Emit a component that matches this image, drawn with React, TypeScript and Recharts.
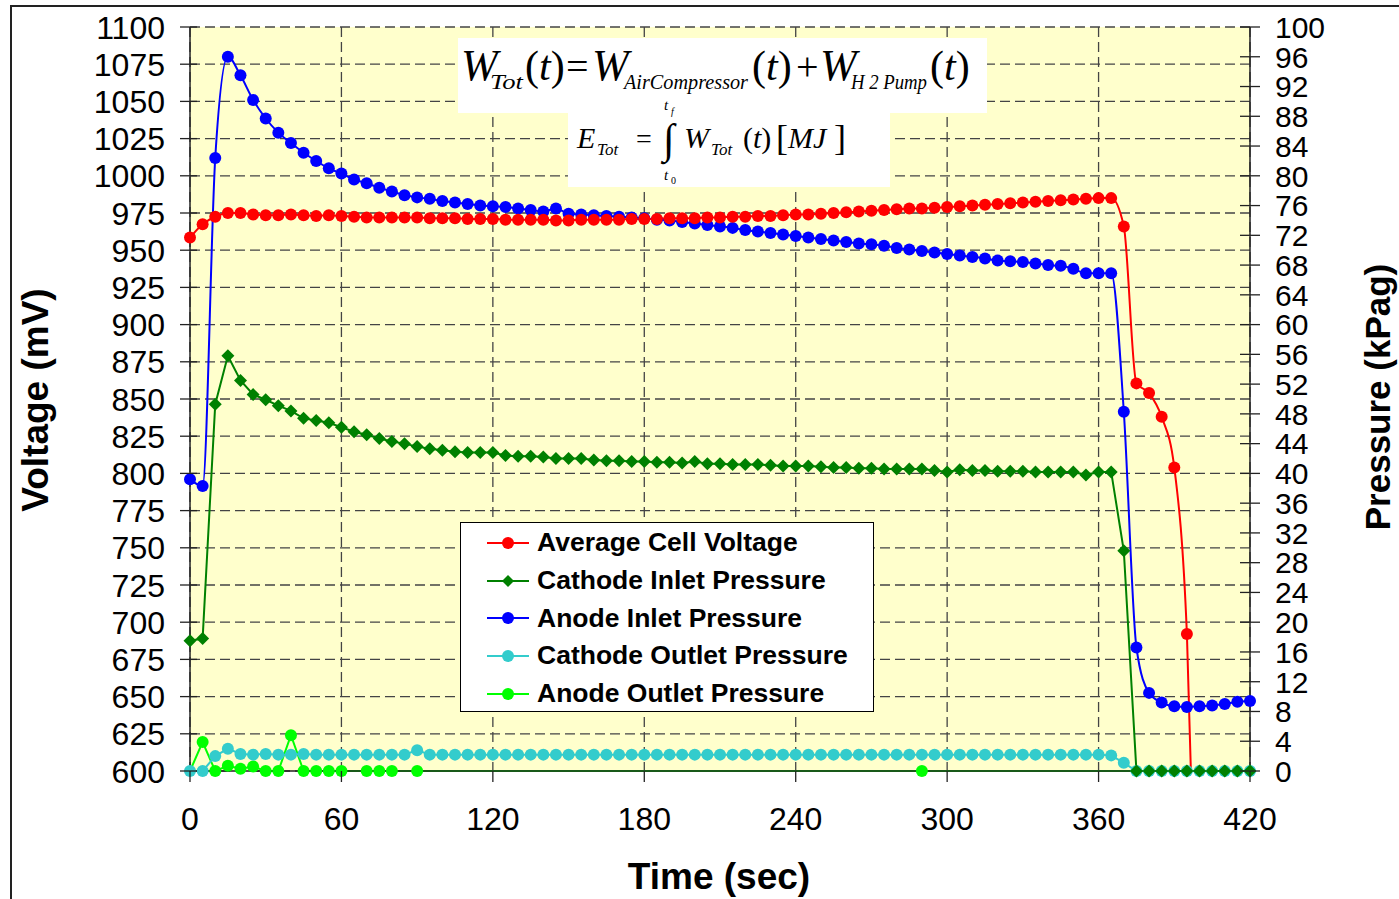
import { ComposedChart, Line, XAxis, YAxis, CartesianGrid, Legend } from 'recharts';

const times = [
  0, 5, 10, 15, 20, 25, 30, 35, 40, 45, 50, 55, 60, 65, 70, 75, 80, 85, 90, 95,
  100, 105, 110, 115, 120, 125, 130, 135, 140, 145, 150, 155, 160, 165, 170, 175, 180, 185, 190, 195,
  200, 205, 210, 215, 220, 225, 230, 235, 240, 245, 250, 255, 260, 265, 270, 275, 280, 285, 290, 295,
  300, 305, 310, 315, 320, 325, 330, 335, 340, 345, 350, 355, 360, 365, 370, 375, 380, 385, 390, 395,
  400, 405, 410, 415, 420,
];

// mV, left axis
const avgCellVoltage = [
  958.5, 967.5, 972.5, 975, 975, 974, 973.5, 973.5, 974, 973.5, 973, 973.5, 973, 972.5, 972, 972, 972, 972, 972, 971.5,
  971.5, 971.5, 971, 971, 971, 970.5, 970.5, 970.5, 970.5, 970, 970, 970.5, 970.5, 970.5, 970.5, 971, 971, 971, 971.5, 971.5,
  971.5, 972, 972, 972.5, 972.5, 973, 973, 973.5, 974, 974, 974.5, 975, 975.5, 976, 976.5, 977, 977.5, 978, 978, 978.5,
  979, 979.5, 980, 980.5, 981, 981.5, 982, 982.5, 983, 983.5, 984, 984.5, 985, 985, 966, 860.5, 854, 838, 804, 692,
  400, null, null, null, null,
];

// kPag, right axis
const cathodeInletPressure = [
  17.5, 17.8, 49.3, 55.8, 52.5, 50.6, 49.9, 49.1, 48.4, 47.4, 47.1, 46.8, 46.2, 45.6, 45.2, 44.7, 44.3, 44.0, 43.6, 43.3,
  43.1, 42.9, 42.8, 42.8, 42.8, 42.4, 42.3, 42.3, 42.2, 42.0, 42.0, 42.0, 41.8, 41.7, 41.7, 41.6, 41.6, 41.5, 41.5, 41.4,
  41.6, 41.3, 41.3, 41.2, 41.2, 41.2, 41.1, 41.0, 41.0, 41.0, 40.9, 40.8, 40.8, 40.7, 40.7, 40.6, 40.6, 40.6, 40.6, 40.4,
  40.2, 40.5, 40.4, 40.4, 40.3, 40.3, 40.3, 40.2, 40.2, 40.2, 40.2, 39.8, 40.2, 40.2, 29.6, 0, 0, 0, 0, 0,
  0, 0, 0, 0, 0,
];

const anodeInletPressure = [
  39.2, 38.3, 82.4, 96, 93.5, 90.2, 87.7, 85.8, 84.4, 83.1, 82, 81, 80.3, 79.5, 79, 78.4, 77.9, 77.4, 77.1, 76.9,
  76.6, 76.4, 76.2, 76, 75.9, 75.8, 75.6, 75.4, 75.2, 75.6, 74.9, 74.8, 74.7, 74.6, 74.5, 74.4, 74.3, 74.1, 74, 73.8,
  73.6, 73.4, 73.2, 73, 72.7, 72.5, 72.3, 72.1, 71.9, 71.7, 71.5, 71.3, 71.1, 70.9, 70.8, 70.6, 70.3, 70.1, 69.9, 69.7,
  69.5, 69.3, 69.1, 68.9, 68.6, 68.5, 68.4, 68.2, 68.0, 67.9, 67.5, 66.9, 66.9, 66.9, 48.3, 16.6, 10.5, 9.2, 8.7, 8.6,
  8.7, 8.8, 9.0, 9.3, 9.4,
];

const cathodeOutletPressure = [
  0, 0, 2.0, 3.0, 2.3, 2.2, 2.3, 2.2, 2.2, 2.3, 2.2, 2.2, 2.2, 2.2, 2.2, 2.2, 2.2, 2.2, 2.8, 2.2,
  2.2, 2.2, 2.2, 2.2, 2.2, 2.2, 2.2, 2.2, 2.2, 2.2, 2.2, 2.2, 2.2, 2.2, 2.2, 2.2, 2.2, 2.2, 2.2, 2.2,
  2.2, 2.2, 2.2, 2.2, 2.2, 2.2, 2.2, 2.2, 2.2, 2.2, 2.2, 2.2, 2.2, 2.2, 2.2, 2.2, 2.2, 2.2, 2.2, 2.2,
  2.2, 2.2, 2.2, 2.2, 2.2, 2.2, 2.2, 2.2, 2.2, 2.2, 2.2, 2.2, 2.2, 2.1, 1.1, 0, 0, 0, 0, 0,
  0, 0, 0, 0, 0,
];

const anodeOutletPressure = [
  0, 3.9, 0, 0.7, 0.3, 0.6, 0, 0, 4.8, 0, 0, 0, 0, 0, 0, 0, 0, 0, 0, 0,
  0, 0, 0, 0, 0, 0, 0, 0, 0, 0, 0, 0, 0, 0, 0, 0, 0, 0, 0, 0,
  0, 0, 0, 0, 0, 0, 0, 0, 0, 0, 0, 0, 0, 0, 0, 0, 0, 0, 0, 0,
  0, 0, 0, 0, 0, 0, 0, 0, 0, 0, 0, 0, 0, 0, 0, 0, 0, 0, 0, 0,
  0, 0, 0, 0, 0,
];
// times where the anode outlet series shows a marker
const anodeOutletMarked = [5, 10, 15, 20, 25, 30, 35, 40, 45, 50, 55, 60, 70, 75, 80, 90, 290];

const timeTicks = [0, 60, 120, 180, 240, 300, 360, 420];
const voltageTicks = [600, 625, 650, 675, 700, 725, 750, 775, 800, 825, 850, 875, 900, 925, 950, 975, 1000, 1025, 1050, 1075, 1100];
const pressureTicks = [0, 4, 8, 12, 16, 20, 24, 28, 32, 36, 40, 44, 48, 52, 56, 60, 64, 68, 72, 76, 80, 84, 88, 92, 96, 100];

const series = [
  { key: 'voltage', name: 'Average Cell Voltage', color: '#FF0000', diamond: false },
  { key: 'cathodeIn', name: 'Cathode Inlet Pressure', color: '#008000', diamond: true },
  { key: 'anodeIn', name: 'Anode Inlet Pressure', color: '#0000FF', diamond: false },
  { key: 'cathodeOut', name: 'Cathode Outlet Pressure', color: '#33CCCC', diamond: false },
  { key: 'anodeOut', name: 'Anode Outlet Pressure', color: '#00FF00', diamond: false },
];

const data = times.map((t, i) => ({
  t,
  voltage: avgCellVoltage[i],
  cathodeIn: cathodeInletPressure[i],
  anodeIn: anodeInletPressure[i],
  cathodeOut: cathodeOutletPressure[i],
  anodeOut: anodeOutletPressure[i],
}));

const AXIS = '#222';
const TICK_FONT = 32;

function LeftTick(props: any) {
  const { x, y, payload } = props;
  const ax = x + 25;
  return (
    <g>
      <line x1={ax - 10} x2={ax + 7} y1={y} y2={y} stroke={AXIS} strokeWidth={1.3} />
      <text x={x} y={y} dy="0.36em" textAnchor="end" fontSize={TICK_FONT} fill="#000">{payload.value}</text>
    </g>
  );
}

function RightTick(props: any) {
  const { x, y, payload } = props;
  const ax = x - 25;
  return (
    <g>
      <line x1={ax - 10} x2={ax + 10} y1={y} y2={y} stroke={AXIS} strokeWidth={1.3} />
      <text x={x} y={y} dy="0.36em" textAnchor="start" fontSize={30} fill="#000">{payload.value}</text>
    </g>
  );
}

function BottomTick(props: any) {
  const { x, y, payload } = props;
  const ay = y - 19;
  return (
    <g>
      <line x1={x} x2={x} y1={ay} y2={ay + 11} stroke={AXIS} strokeWidth={1.3} />
      <text x={x} y={y + 40} textAnchor="middle" fontSize={TICK_FONT} fill="#000">{payload.value}</text>
    </g>
  );
}

function DiamondDot(props: any) {
  const { cx, cy, fill } = props;
  if (cx == null || cy == null) return <g />;
  const s = 6.5;
  return <polygon points={`${cx},${cy - s} ${cx + s},${cy} ${cx},${cy + s} ${cx - s},${cy}`} fill={fill} />;
}

function AnodeOutletDot(props: any) {
  const { cx, cy, payload } = props;
  if (!anodeOutletMarked.includes(payload.t)) return <g />;
  return <circle cx={cx} cy={cy} r={6} fill="#00FF00" />;
}

function LegendBox() {
  return (
    <div style={{ width: 414, height: 190, boxSizing: 'border-box', border: '1.5px solid #000', background: '#fff', paddingTop: 1 }}>
      {series.map((s) => (
        <div key={s.key} style={{ height: 37.7, display: 'flex', alignItems: 'center' }}>
          <svg width={76} height={20} style={{ flex: 'none' }}>
            <line x1={26} x2={68} y1={10} y2={10} stroke={s.color} strokeWidth={2} />
            {s.diamond ? (
              <polygon points="47,4 53,10 47,16 41,10" fill={s.color} />
            ) : (
              <circle cx={47} cy={10} r={6} fill={s.color} />
            )}
          </svg>
          <span style={{ fontWeight: 700, fontSize: 26.5, color: '#000', whiteSpace: 'nowrap' }}>{s.name}</span>
        </div>
      ))}
    </div>
  );
}

function Overlay() {
  const serif = '"Liberation Serif", "Times New Roman", serif';
  const fit = 'spacingAndGlyphs';
  return (
    <svg width={1399} height={899} style={{ position: 'absolute', left: 0, top: 0, pointerEvents: 'none' }}>
      {/* formula boxes */}
      <rect x={458} y={38} width={529} height={75} fill="#fff" />
      <rect x={568} y={112} width={322} height={75} fill="#fff" />
      <g fontFamily={serif} fill="#000">
        <text x={461} y={80} fontSize={44} fontStyle="italic">W</text>
        <text x={490} y={89} fontSize={21} fontStyle="italic" textLength={33} lengthAdjust={fit}>Tot</text>
        <text x={525} y={80} fontSize={42}>(<tspan fontStyle="italic">t</tspan>)</text>
        <text x={566} y={80} fontSize={40}>=</text>
        <text x={592} y={80} fontSize={44} fontStyle="italic">W</text>
        <text x={624} y={89} fontSize={21} fontStyle="italic" textLength={124} lengthAdjust={fit}>AirCompressor</text>
        <text x={752} y={80} fontSize={42}>(<tspan fontStyle="italic">t</tspan>)</text>
        <text x={796} y={80} fontSize={40}>+</text>
        <text x={820} y={80} fontSize={44} fontStyle="italic">W</text>
        <text x={851} y={89} fontSize={21} fontStyle="italic" textLength={76} lengthAdjust={fit}>H 2<tspan fontStyle="normal"> </tspan>Pump</text>
        <text x={930} y={80} fontSize={42}>(<tspan fontStyle="italic">t</tspan>)</text>

        <text x={577} y={148} fontSize={30} fontStyle="italic">E</text>
        <text x={597} y={155} fontSize={17} fontStyle="italic">Tot</text>
        <text x={636} y={148} fontSize={28}>=</text>
        <text x={663} y={153} fontSize={42}>∫</text>
        <text x={664} y={110} fontSize={15} fontStyle="italic">t</text>
        <text x={671} y={115} fontSize={10} fontStyle="italic">f</text>
        <text x={664} y={180} fontSize={15} fontStyle="italic">t</text>
        <text x={671} y={184} fontSize={10}>0</text>
        <text x={684} y={148} fontSize={30} fontStyle="italic">W</text>
        <text x={711} y={155} fontSize={17} fontStyle="italic">Tot</text>
        <text x={743} y={148} fontSize={30}>(<tspan fontStyle="italic">t</tspan>)</text>
        <text x={776} y={150} fontSize={36}>[</text>
        <text x={788} y={148} fontSize={30} fontStyle="italic">MJ</text>
        <text x={834} y={150} fontSize={36}>]</text>
      </g>
      {/* axis titles */}
      <g fontWeight={700} fill="#000">
        <text x={35} y={400} dy="0.35em" fontSize={37} textAnchor="middle" transform="rotate(-90, 35, 400)">Voltage (mV)</text>
        <text x={1378} y={397} dy="0.35em" fontSize={35} textAnchor="middle" transform="rotate(-90, 1378, 397)">Pressure (kPag)</text>
        <text x={719} y={889} fontSize={37} textAnchor="middle">Time (sec)</text>
      </g>
    </svg>
  );
}

export default function App() {
  return (
    <div style={{ position: 'fixed', left: 0, top: 0, width: 1399, height: 899, overflow: 'hidden', background: '#fff', fontFamily: '"Liberation Sans", Arial, sans-serif' }}>
      <div style={{ position: 'absolute', left: 10, top: 5, width: 1400, height: 900, borderLeft: '2px solid #222', borderTop: '2px solid #222' }} />
      <div style={{ position: 'absolute', left: 0, top: 0 }}>
        <ComposedChart width={1399} height={899} data={data} margin={{ top: 27, right: 0, bottom: 0, left: 0 }}>
          <CartesianGrid fill="#FFFFCC" fillOpacity={1} stroke="#444" strokeWidth={1.3} strokeDasharray="10 5" />
          <XAxis
            dataKey="t"
            type="number"
            domain={[0, 420]}
            ticks={timeTicks}
            interval={0}
            height={128}
            tickSize={11}
            tickMargin={8}
            tickLine={false}
            axisLine={{ stroke: AXIS, strokeWidth: 1.5 }}
            tick={<BottomTick />}
          />
          <YAxis
            domain={[600, 1100]}
            ticks={voltageTicks}
            interval={0}
            allowDataOverflow
            width={190}
            tickSize={10}
            tickMargin={15}
            tickLine={false}
            axisLine={{ stroke: AXIS, strokeWidth: 1.5 }}
            tick={<LeftTick />}
          />
          <YAxis
            yAxisId="p"
            orientation="right"
            domain={[0, 100]}
            ticks={pressureTicks}
            interval={0}
            width={149}
            tickSize={10}
            tickMargin={15}
            tickLine={false}
            axisLine={{ stroke: AXIS, strokeWidth: 1.5 }}
            tick={<RightTick />}
          />
          <Legend
            layout="vertical"
            align="center"
            verticalAlign="middle"
            content={<LegendBox />}
            wrapperStyle={{ left: 460, top: 522, width: 414, height: 190 }}
          />
          <Line yAxisId="p" dataKey="anodeOut" name="Anode Outlet Pressure" type="linear" stroke="#00FF00" strokeWidth={2} dot={<AnodeOutletDot />} activeDot={false} isAnimationActive={false} />
          <Line yAxisId="p" dataKey="cathodeOut" name="Cathode Outlet Pressure" type="linear" stroke="#33CCCC" strokeWidth={2} dot={{ r: 6, fill: '#33CCCC', stroke: '#33CCCC', strokeWidth: 0 }} activeDot={false} isAnimationActive={false} />
          <Line yAxisId="p" dataKey="cathodeIn" name="Cathode Inlet Pressure" type="linear" stroke="#008000" strokeWidth={2} dot={<DiamondDot fill="#008000" />} activeDot={false} isAnimationActive={false} />
          <Line yAxisId="p" dataKey="anodeIn" name="Anode Inlet Pressure" type="monotone" stroke="#0000FF" strokeWidth={2} dot={{ r: 6, fill: '#0000FF', stroke: '#0000FF', strokeWidth: 0 }} activeDot={false} isAnimationActive={false} />
          <Line dataKey="voltage" name="Average Cell Voltage" type="monotone" stroke="#FF0000" strokeWidth={2} dot={{ r: 6, fill: '#FF0000', stroke: '#FF0000', strokeWidth: 0 }} activeDot={false} isAnimationActive={false} />
        </ComposedChart>
      </div>
      <Overlay />
    </div>
  );
}
